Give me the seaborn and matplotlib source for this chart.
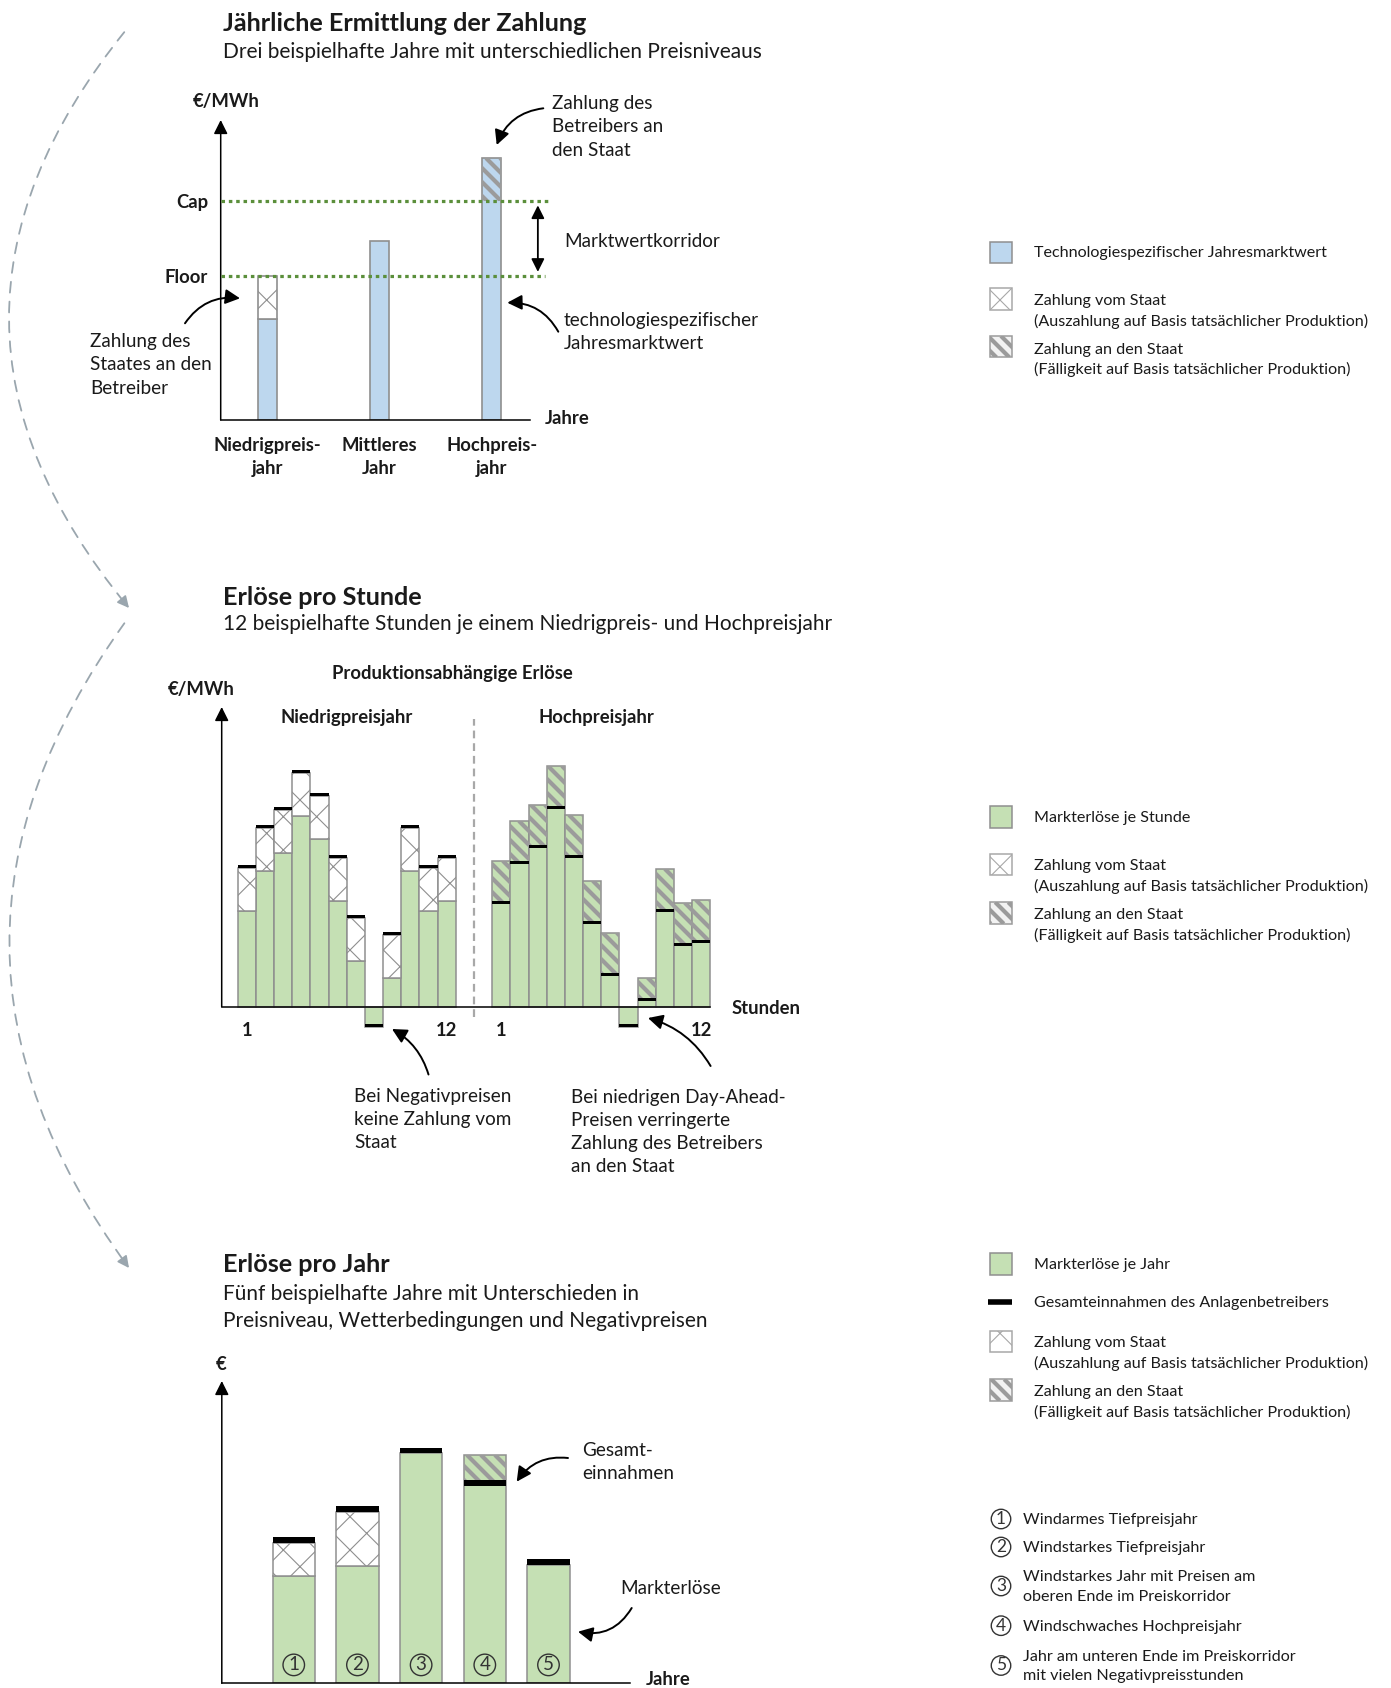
import numpy as np
import pandas as pd
import matplotlib
matplotlib.use("Agg")
import matplotlib.pyplot as plt
from matplotlib.patches import Rectangle, FancyArrowPatch
from matplotlib.collections import LineCollection
from matplotlib.transforms import IdentityTransform
import seaborn as sns

plt.rcParams["font.family"] = ["Lato", "DejaVu Sans"]

W, H = 1391, 1688

BLUE = "#bdd7ee"
GREEN = "#c5e0b4"
EDGE = "#8f8f8f"
HATCH_GREY = "#9b9b9b"
DOT_GREEN = "#5b8f3b"
ARC_GREY = "#9aa6ae"
INK = "#1a1a1a"

# ---- annual determination of the payment (EUR/MWh, schematic) ----
year_labels = ["Niedrigpreis-\njahr", "Mittleres\nJahr", "Hochpreis-\njahr"]
annual_market_value = [35, 62, 91]
floor_value = 50
cap_value = 76

# ---- revenues per hour (EUR/MWh, schematic) ----
hour_ticks = ["1", "12", "1", "12"]
low_year_market = [48, 68, 77, 95.5, 84, 53, 23, -10, 14.5, 68, 48, 53]
low_year_state_payment = [21.5, 21.5, 21.5, 21.5, 21.5, 21.5, 21.5, 0, 21.5, 21.5, 21.5, 21.5]
high_year_market = [73, 93, 101, 120.5, 96, 63, 37, -10, 14.5, 69, 52, 53.5]
high_year_operator_payment = [21.5, 21.5, 21.5, 21.5, 21.5, 21.5, 21.5, 0, 11.5, 21.5, 21.5, 21.5]

# ---- revenues per year (EUR, schematic) ----
year_ids = ["1", "2", "3", "4", "5"]
yearly_market = [53.6, 58.8, 115, 114.2, 59.2]
yearly_state_payment = [16.7, 26.9, 0, 0, 0]
yearly_operator_payment = [0, 0, 0, 15.5, 0]

TITLE = 18.2
SUB = 15
NOTE = 13.6
BOLD = 13.3
LEG = 11.6

fig = plt.figure(figsize=(W / 100, H / 100), dpi=100)


def px_axes(x0, y0, x1, y1):
    return fig.add_axes([x0 / W, 1 - y1 / H, (x1 - x0) / W, (y1 - y0) / H])


def cross_width(artists, lw):
    """Draw the given patches with their own hatch line width."""
    for a in artists:
        if hasattr(a, "set_hatch_linewidth"):
            a.set_hatch_linewidth(lw)
        orig = a.draw

        def draw(renderer, _orig=orig, _lw=lw):
            with plt.rc_context({"hatch.linewidth": _lw}):
                _orig(renderer)

        a.draw = draw


def stripe_fill(ax, patches, period=14.0, lw=3.0, color=HATCH_GREY):
    """Thick diagonal stripes (top-left to bottom-right) clipped to each patch."""
    for p in patches:
        bb = p.get_window_extent()
        k0 = np.floor((bb.x0 + bb.y0) / period) - 1
        k1 = np.ceil((bb.x1 + bb.y1) / period) + 1
        segs = [[(k * period - bb.y1, bb.y1), (k * period - bb.y0, bb.y0)]
                for k in np.arange(k0, k1 + 1)]
        lc = LineCollection(segs, colors=color, linewidths=lw,
                            transform=IdentityTransform(), zorder=2.5)
        ax.add_collection(lc, autolim=False)
        lc.set_clip_path(p)


def style_axes(ax):
    for s in ["top", "right", "left"]:
        ax.spines[s].set_visible(False)
    ax.spines["bottom"].set_color("black")
    ax.spines["bottom"].set_linewidth(1.1)
    ax.set_facecolor("none")
    ax.set_yticks([])
    ax.tick_params(length=0)
    ax.set_xlabel("")
    ax.set_ylabel("")
    ax.annotate("", xy=(0, 1), xytext=(0, 0), xycoords="axes fraction",
                annotation_clip=False,
                arrowprops=dict(arrowstyle="-|>,head_length=0.6,head_width=0.3",
                                lw=1.1, color="black", shrinkA=0, shrinkB=0,
                                mutation_scale=14))


CROSS_LW = 0.8


def stacked(ax, xs, heights, bottoms, width, kind, lw_edge=1.0):
    xs = np.asarray(xs, float)
    heights = np.asarray(heights, float)
    bottoms = np.asarray(bottoms, float)
    keep = heights > 0
    if kind == "cross":
        bars = ax.bar(xs[keep], heights[keep], bottom=bottoms[keep], width=width,
                      color="white", edgecolor=EDGE, hatch="x", linewidth=lw_edge,
                      clip_on=False, zorder=2)
        cross_width(bars, CROSS_LW)
    else:
        bars = ax.bar(xs[keep], heights[keep], bottom=bottoms[keep], width=width,
                      fill=False, linewidth=0, clip_on=False, zorder=2)
        stripe_fill(ax, bars)
    return bars


# ================= chart 1: annual determination =================
ax1 = px_axes(220.7, 120, 530, 420)
sns.barplot(x=year_labels, y=annual_market_value, color=BLUE, saturation=1,
            width=0.17, edgecolor=EDGE, linewidth=1.2, errorbar=None, ax=ax1)
style_axes(ax1)
ax1.set_xlim(-0.415, 2.34)
ax1.set_ylim(0, 104.2)
pos1 = np.arange(len(year_labels))
mv = np.asarray(annual_market_value, float)
state_pay = np.clip(floor_value - mv, 0, None)
operator_pay = np.clip(mv - cap_value, 0, None)
stacked(ax1, pos1, state_pay, mv, 0.17, "cross", 1.2)
stacked(ax1, pos1, operator_pay, mv - operator_pay, 0.17, "stripe")
ax1.hlines([cap_value], -0.415, 2.50, colors=DOT_GREEN, lw=2.3,
           linestyles=(0, (1.1, 1.2)), clip_on=False, zorder=4)
ax1.hlines([floor_value], -0.415, 2.47, colors=DOT_GREEN, lw=2.3,
           linestyles=(0, (1.1, 1.2)), clip_on=False, zorder=4)
ax1.set_xticks(pos1)
ax1.set_xticklabels(year_labels, fontsize=BOLD, fontweight="bold", color=INK,
                    linespacing=1.43)
ax1.tick_params(axis="x", pad=12)
ax1.set_yticks([floor_value, cap_value])
ax1.set_yticklabels(["Floor", "Cap"], fontsize=BOLD, fontweight="bold", color=INK)
ax1.tick_params(axis="y", pad=9, length=0)
ax1.annotate("", xy=(2.41, cap_value), xytext=(2.41, floor_value),
             annotation_clip=False,
             arrowprops=dict(arrowstyle="<|-|>,head_length=0.6,head_width=0.3",
                             lw=1.3, color="black", shrinkA=3, shrinkB=3,
                             mutation_scale=13))

# ================= chart 2: revenues per hour =================
ax2 = px_axes(221.7, 707, 710, 1006.7)
slots = list(range(12)) + list(range(14, 26))
hour_df = pd.DataFrame({"slot": slots,
                        "market": low_year_market + high_year_market})
sns.barplot(data=hour_df, x="slot", y="market", native_scale=True, width=1,
            color=GREEN, saturation=1, edgecolor=EDGE, linewidth=1.1,
            errorbar=None, ax=ax2)
for p in ax2.patches:
    p.set_clip_on(False)
style_axes(ax2)
ax2.set_xlim(-1.387, 25.49)
ax2.set_ylim(0, 150)
low_slots = np.arange(12)
high_slots = np.arange(14, 26)
lm = np.asarray(low_year_market, float)
lp = np.asarray(low_year_state_payment, float)
hm = np.asarray(high_year_market, float)
hp = np.asarray(high_year_operator_payment, float)
stacked(ax2, low_slots, lp, lm, 1, "cross", 1.1)
stacked(ax2, high_slots, hp, hm - hp, 1, "stripe")
line_h = 1.25
ax2.bar(low_slots, line_h, bottom=lm + lp, width=1, color="black", linewidth=0,
        clip_on=False, zorder=3)
ax2.bar(high_slots, line_h, bottom=hm - hp, width=1, color="black", linewidth=0,
        clip_on=False, zorder=3)
ax2.vlines(12.5, -5, 144, colors="#a8a8a8", lw=1.6, linestyles=(0, (3.5, 2.2)),
           clip_on=False)
ax2.set_xticks([0, 11, 14, 25])
ax2.set_xticklabels(hour_ticks, fontsize=BOLD, fontweight="bold", color=INK)
ax2.tick_params(axis="x", pad=11, length=0)

# ================= chart 3: revenues per year =================
ax3 = px_axes(221.8, 1381, 630, 1683.3)
sns.barplot(x=year_ids, y=yearly_market, color=GREEN, saturation=1, width=0.667,
            edgecolor=EDGE, linewidth=1.1, errorbar=None, ax=ax3)
style_axes(ax3)
ax3.set_xlim(-1.13, 5.28)
ax3.set_ylim(0, 151.15)
pos3 = np.arange(len(year_ids))
ym = np.asarray(yearly_market, float)
ys = np.asarray(yearly_state_payment, float)
yo = np.asarray(yearly_operator_payment, float)
stacked(ax3, pos3, ys, ym, 0.667, "cross", 1.1)
stacked(ax3, pos3, yo, ym - yo, 0.667, "stripe")
ax3.bar(pos3, 2.8, bottom=ym + ys - yo, width=0.667, color="black", linewidth=0,
        zorder=3)
for i, lab in enumerate(year_ids):
    ax3.text(i, 9.2, lab, ha="center", va="center", fontsize=13.5, color="#333333",
             bbox=dict(boxstyle="circle,pad=0.12", fc="none", ec="#333333", lw=1))
ax3.set_xticks([])

# ================= overlay: titles, notes, legends =================
ov = fig.add_axes([0, 0, 1, 1])
ov.set_xlim(0, W)
ov.set_ylim(H, 0)
ov.axis("off")


def txt(x, y, s, size=NOTE, weight="normal", ha="left", va="center", ls=1.44):
    ov.text(x, y, s, fontsize=size, fontweight=weight, ha=ha, va=va,
            linespacing=ls, color=INK)


def curved(p_from, p_to, rad, lw=1.4):
    ov.annotate("", xy=p_to, xytext=p_from,
                arrowprops=dict(arrowstyle="-|>,head_length=0.55,head_width=0.28",
                                connectionstyle=f"arc3,rad={rad}", lw=lw,
                                color="black", shrinkA=0, shrinkB=0,
                                mutation_scale=16))


def dashed_arc(p0, p1, rad):
    arc = FancyArrowPatch(p0, p1, connectionstyle=f"arc3,rad={rad}", arrowstyle="-",
                          linestyle=(0, (6, 5)), color=ARC_GREY, lw=1.3)
    ov.add_patch(arc)
    # tangent at the end of the quadratic curve, in display orientation
    x0, y0 = p0[0], H - p0[1]
    x1, y1 = p1[0], H - p1[1]
    mx, my = (x0 + x1) / 2, (y0 + y1) / 2
    cx, cy = mx + rad * (y1 - y0), my - rad * (x1 - x0)
    tx, ty = x1 - cx, y1 - cy
    n = np.hypot(tx, ty)
    bx, by = x1 - 9 * tx / n, y1 - 9 * ty / n
    ov.annotate("", xy=p1, xytext=(bx, H - by),
                arrowprops=dict(arrowstyle="-|>,head_length=0.7,head_width=0.35",
                                color=ARC_GREY, lw=1.2, shrinkA=0, shrinkB=0,
                                mutation_scale=10))


dashed_arc((126, 30), (129, 608), 0.41)
dashed_arc((126, 621), (129, 1268), 0.365)

# titles
txt(222.9, 23.5, "Jährliche Ermittlung der Zahlung", size=TITLE, weight="bold")
txt(222.9, 51.6, "Drei beispielhafte Jahre mit unterschiedlichen Preisniveaus", size=SUB)
txt(222.9, 597.4, "Erlöse pro Stunde", size=TITLE, weight="bold")
txt(222.9, 624.4, "12 beispielhafte Stunden je einem Niedrigpreis- und Hochpreisjahr", size=SUB)
txt(222.9, 1265, "Erlöse pro Jahr", size=TITLE, weight="bold")
txt(222.9, 1307.5, "Fünf beispielhafte Jahre mit Unterschieden in\n"
                   "Preisniveau, Wetterbedingungen und Negativpreisen", size=SUB, ls=1.47)

# chart 1 notes
txt(226, 101, "€/MWh", size=BOLD, weight="bold", ha="center")
txt(545, 418, "Jahre", size=BOLD, weight="bold")
txt(552.3, 127, "Zahlung des\nBetreibers an\nden Staat")
txt(564, 241.2, "Marktwertkorridor")
txt(564, 331.6, "technologiespezifischer\nJahresmarktwert")
txt(90.4, 365, "Zahlung des\nStaates an den\nBetreiber")
curved((543.3, 108.3), (496.7, 145), 0.3)
curved((558.3, 331.7), (507.3, 302.7), 0.3)
curved((185, 323.3), (240, 298.3), -0.3)

# chart 2 notes
txt(201, 689, "€/MWh", size=BOLD, weight="bold", ha="center")
txt(452, 673, "Produktionsabhängige Erlöse", size=BOLD, weight="bold", ha="center")
txt(346.7, 718, "Niedrigpreisjahr", size=BOLD, weight="bold", ha="center")
txt(596.4, 718, "Hochpreisjahr", size=BOLD, weight="bold", ha="center")
txt(732, 1008, "Stunden", size=BOLD, weight="bold")
txt(354, 1119.5, "Bei Negativpreisen\nkeine Zahlung vom\nStaat")
txt(570.6, 1132, "Bei niedrigen Day-Ahead-\nPreisen verringerte\nZahlung des Betreibers\nan den Staat")
curved((428.5, 1074.5), (392, 1029), 0.2)
curved((710.6, 1066), (648, 1018), 0.2)

# chart 3 notes
txt(220.7, 1365, "€", size=BOLD, weight="bold", ha="center")
txt(646, 1685, "Jahre", size=BOLD, weight="bold", va="baseline")
txt(582.5, 1462, "Gesamt-\neinnahmen")
txt(620, 1589, "Markterlöse")
curved((568, 1458), (516.7, 1481.7), 0.3)
curved((631.7, 1608), (578, 1631.7), -0.35)

# legends
SW = 21.5
SX = 990
TX = 1033.5


def swatch(yc, kind):
    if kind == "blue":
        ov.add_patch(Rectangle((SX, yc - SW / 2), SW, SW, facecolor=BLUE,
                               edgecolor=EDGE, lw=1.1))
    elif kind == "green":
        ov.add_patch(Rectangle((SX, yc - SW / 2), SW, SW, facecolor=GREEN,
                               edgecolor=EDGE, lw=1.1))
    elif kind == "cross":
        r = Rectangle((SX, yc - SW / 2), SW, SW, facecolor="white",
                      edgecolor="#a8a8a8", hatch="x", lw=1.1)
        ov.add_patch(r)
        cross_width([r], CROSS_LW)
    elif kind == "stripe":
        r = Rectangle((SX, yc - SW / 2), SW, SW, facecolor="#f2f2f2",
                      edgecolor=HATCH_GREY, lw=1.1)
        ov.add_patch(r)
        stripe_fill(ov, [r], period=13.0)
    elif kind == "line":
        ov.plot([SX - 2, SX + SW], [yc, yc], color="black", lw=4, solid_capstyle="butt")


swatch(252.5, "blue")
txt(TX, 253.5, "Technologiespezifischer Jahresmarktwert", size=LEG)
swatch(299, "cross")
txt(TX, 311.4, "Zahlung vom Staat\n(Auszahlung auf Basis tatsächlicher Produktion)", size=LEG, ls=1.46)
swatch(346.7, "stripe")
txt(TX, 359.9, "Zahlung an den Staat\n(Fälligkeit auf Basis tatsächlicher Produktion)", size=LEG, ls=1.46)

swatch(817, "green")
txt(TX, 818, "Markterlöse je Stunde", size=LEG)
swatch(864.5, "cross")
txt(TX, 876.8, "Zahlung vom Staat\n(Auszahlung auf Basis tatsächlicher Produktion)", size=LEG, ls=1.46)
swatch(913, "stripe")
txt(TX, 925.2, "Zahlung an den Staat\n(Fälligkeit auf Basis tatsächlicher Produktion)", size=LEG, ls=1.46)

swatch(1264, "green")
txt(TX, 1265, "Markterlöse je Jahr", size=LEG)
swatch(1301.6, "line")
txt(TX, 1302.6, "Gesamteinnahmen des Anlagenbetreibers", size=LEG)
swatch(1341.5, "cross")
txt(TX, 1353.8, "Zahlung vom Staat\n(Auszahlung auf Basis tatsächlicher Produktion)", size=LEG, ls=1.46)
swatch(1390, "stripe")
txt(TX, 1402.2, "Zahlung an den Staat\n(Fälligkeit auf Basis tatsächlicher Produktion)", size=LEG, ls=1.46)

year_notes = ["Windarmes Tiefpreisjahr",
              "Windstarkes Tiefpreisjahr",
              "Windstarkes Jahr mit Preisen am\noberen Ende im Preiskorridor",
              "Windschwaches Hochpreisjahr",
              "Jahr am unteren Ende im Preiskorridor\nmit vielen Negativpreisstunden"]
note_y = [1519, 1547, 1586, 1625.7, 1665.5]
for lab, note, yc in zip(year_ids, year_notes, note_y):
    ov.text(1001, yc, lab, fontsize=12.5, ha="center", va="center", color="#333333",
            bbox=dict(boxstyle="circle,pad=0.1", fc="none", ec="#333333", lw=1))
    txt(1022.8, yc + 1, note, size=LEG, ls=1.46)

fig.savefig("out.png", dpi=100, facecolor="white")
